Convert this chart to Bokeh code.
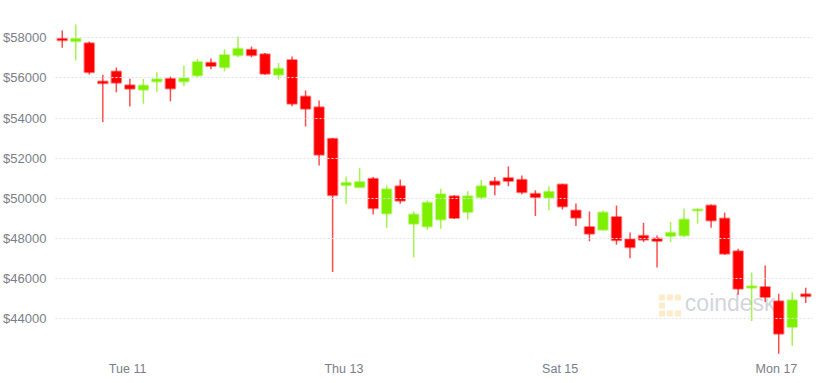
import pandas as pd
from bokeh.plotting import figure
from bokeh.models import FixedTicker, Range1d, ColumnDataSource, DatetimeTickFormatter, Label
from bokeh.embed import file_html
from bokeh.resources import INLINE

# ---- data (3-hour BTC candles) ----
start_time = "2021-05-10 09:30"
opens = [57950, 57830, 57730, 55820, 56320, 55640, 55410, 55820, 55960, 55820,
         56120, 56760, 56540, 57130, 57400, 57180, 56160, 56900, 55080, 54540,
         52970, 50650, 50560, 50980, 49240, 50600, 48740, 48600, 48950, 50100,
         49320, 50060, 50840, 51010, 50930, 50230, 50030, 50690, 49400, 48570,
         48440, 49070, 47960, 48140, 48000, 48120, 48150, 49390, 49650, 49000,
         47360, 45550, 45580, 44870, 43590, 45220]
highs = [58360, 58660, 57820, 56160, 56520, 55960, 55960, 56290, 56070, 56620,
         56950, 56970, 57430, 58070, 57570, 57250, 56740, 57070, 55380, 54880,
         53010, 51090, 51510, 51060, 50650, 50940, 49350, 49900, 50480, 50150,
         50350, 50930, 51060, 51590, 51140, 50400, 50600, 50730, 49750, 49350,
         49400, 49650, 48300, 48790, 48150, 48820, 49500, 49500, 49700, 49300,
         47490, 46310, 46650, 45250, 45320, 45550]
lows = [57500, 56870, 56170, 53800, 55290, 54580, 54710, 55290, 54840, 55590,
        56040, 56440, 56340, 57030, 57030, 56160, 55920, 54590, 53580, 51640,
        46330, 49730, 50560, 49200, 48520, 49730, 47070, 48440, 48490, 48970,
        48950, 49960, 50150, 50600, 50210, 49120, 49400, 49450, 48620, 47860,
        48400, 47690, 47020, 47820, 46550, 47820, 48070, 48740, 48540, 47190,
        45200, 43890, 44830, 42260, 42660, 44780]
closes = [57880, 57950, 56290, 55740, 55760, 55460, 55630, 55940, 55480, 55990,
          56790, 56590, 57150, 57450, 57130, 56210, 56460, 54710, 54460, 52170,
          50150, 50780, 50810, 49510, 50460, 49880, 49200, 49780, 50200, 49020,
          50110, 50600, 50680, 50860, 50310, 50060, 50330, 49600, 49040, 48240,
          49300, 47910, 47570, 47940, 47870, 48290, 48950, 49450, 48900, 47240,
          45500, 45620, 45080, 43260, 44920, 45120]
tick_days = ["2021-05-11", "2021-05-13", "2021-05-15", "2021-05-17"]
y_ticks = [44000, 46000, 48000, 50000, 52000, 54000, 56000, 58000]
y_tick_labels = ["$44000", "$46000", "$48000", "$50000", "$52000", "$54000", "$56000", "$58000"]

RED = "#ff0000"
GREEN = "#7fef00"

times = pd.date_range(start_time, periods=len(opens), freq="3h")
df = pd.DataFrame(dict(t=times, o=opens, h=highs, l=lows, c=closes))
df["top"] = df[["o", "c"]].max(axis=1)
df["bot"] = df[["o", "c"]].min(axis=1)
df["col"] = [GREEN if c >= o else RED for o, c in zip(df.o, df.c)]
src = ColumnDataSource(df)

step_ms = 3 * 3600 * 1000
x0 = times[0] - pd.Timedelta(hours=1.5)
x1 = times[-1] + pd.Timedelta(hours=1.5)
y0, y1 = 42170, 59860

FL, FR, FT, FB = 53, 20, 0, 28
p = figure(width=832, height=383, output_backend="svg", toolbar_location=None,
           x_axis_type="datetime", x_range=Range1d(x0, x1), y_range=Range1d(y0, y1),
           min_border_left=FL, min_border_right=FR, min_border_top=FT, min_border_bottom=FB)
p.outline_line_color = None
p.background_fill_color = "white"
p.border_fill_color = "white"

# watermark
FW, FH = 832 - FL - FR, 383 - FT - FB
def px_t(xp):
    return x0 + (x1 - x0) * (xp - FL) / FW
def px_y(yp):
    return y1 - (y1 - y0) * (yp - FT) / FH

wm_x = [px_t(v) for v in [661, 669, 677, 661, 661, 669, 677]]
wm_y = [px_y(v) for v in [297, 297, 297, 305, 313, 313, 313]]
p.rect(x=wm_x, y=wm_y, width=6, height=6, width_units="screen", height_units="screen",
       fill_color="#fde6bb", line_color=None, fill_alpha=0.8, level="underlay")
p.add_layout(Label(x=px_t(684), y=px_y(315), text="coindesk", text_font="Liberation Sans",
                   text_font_size="23px", text_color="#cdd0d8", text_alpha=0.9, level="underlay"))

# wicks
p.segment(x0="t", y0="h", x1="t", y1="l", source=src, line_color="col", line_alpha=0.7, line_width=1.5)
# bodies
p.vbar(x="t", width=step_ms * 0.71, top="top", bottom="bot", source=src,
       fill_color="col", line_color="col", line_alpha=0.45, line_width=2)

p.xgrid.visible = False
p.ygrid.grid_line_color = "#dde0e8"
p.ygrid.grid_line_dash = "2 2"
p.ygrid.grid_line_width = 1
p.ygrid.level = "annotation"
p.yaxis.ticker = FixedTicker(ticks=y_ticks)
p.yaxis.major_label_overrides = {t: l for t, l in zip(y_ticks, y_tick_labels)}

tick_ms = [pd.Timestamp(d).value // 10**6 for d in tick_days]
p.xaxis.ticker = FixedTicker(ticks=tick_ms)
fmt = "%a %d"
p.xaxis.formatter = DatetimeTickFormatter(days=fmt, hours=fmt, months=fmt, hourmin=fmt,
                                          minutes=fmt, seconds=fmt, milliseconds=fmt)

for ax in (p.xaxis[0], p.yaxis[0]):
    ax.axis_line_color = None
    ax.major_tick_line_color = None
    ax.minor_tick_line_color = None
    ax.major_tick_out = 0
    ax.major_tick_in = 0
    ax.minor_tick_out = 0
    ax.minor_tick_in = 0
    ax.major_label_text_color = "#7a7e89"
    ax.major_label_text_font = "Liberation Sans"
p.yaxis.major_label_text_font_size = "13px"
p.yaxis.major_label_standoff = 9
p.xaxis.major_label_text_font_size = "12.5px"
p.xaxis.major_label_standoff = 6

open("out.html", "w").write(file_html(p, INLINE))
